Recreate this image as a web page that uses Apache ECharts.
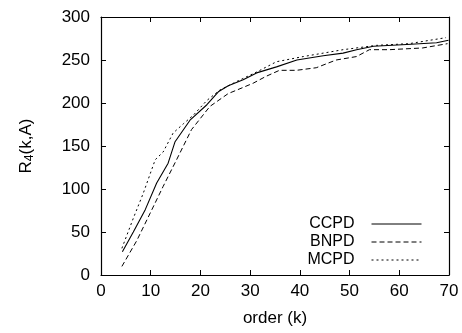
<!DOCTYPE html>
<html>
<head>
<meta charset="utf-8">
<script src="https://cdn.jsdelivr.net/npm/echarts@6/dist/echarts.min.js"></script>
<style>html,body{margin:0;padding:0;background:#fff}#c{width:462px;height:333px}</style>
</head>
<body>
<div id="c"></div>
<script>
var seriesNames = ['CCPD', 'BNPD', 'MCPD'];
var xTicks = [0, 10, 20, 30, 40, 50, 60, 70];
var yTicks = [0, 50, 100, 150, 200, 250, 300];

var ccpdK = [4.3, 6.5, 8.9, 11.2, 13.5, 14.9, 17.9, 21.3, 23.6, 25.6, 28.6, 31.3, 35.3, 39.4, 44.7, 48.7, 51.4, 54.8, 61.5, 67.5, 69.9];
var ccpdV = [27, 50, 76, 107, 130, 155, 180, 198, 213, 220, 227, 235, 242, 250, 255, 258, 262, 266, 268, 270, 273];

var bnpdK = [4.2, 7.2, 9.9, 12.5, 15.2, 18.2, 21.9, 25.6, 27.3, 30.6, 33.2, 35.9, 39.3, 43.3, 47.3, 51.4, 54.0, 58.0, 64.7, 69.7];
var bnpdV = [10, 40, 72, 103, 134, 169, 196, 211, 215, 223, 231, 238, 238, 241, 250, 254, 262, 262, 264, 269];

var mcpdK = [4.2, 6.5, 8.5, 10.9, 12.5, 14.5, 16.6, 18.6, 21.3, 23.9, 27.3, 31.3, 35.3, 40.7, 44.7, 48.7, 55.4, 62.0, 69.4];
var mcpdV = [31, 66, 95, 134, 143, 165, 176, 186, 203, 215, 225, 236, 248, 254, 258, 262, 267, 269, 276];

function pairs(k, v) { return k.map(function (x, i) { return [x, v[i]]; }); }

var font = 'Liberation Sans, Arial, Helvetica, sans-serif';
var chart = echarts.init(document.getElementById('c'), null, {renderer: 'canvas'});

var axisCommon = {
  axisLine: {show: true, onZero: false, lineStyle: {color: '#000', width: 1.2}},
  axisTick: {show: true, inside: true, length: 5, lineStyle: {color: '#000', width: 1}},
  splitLine: {show: false}
};

chart.setOption({
  animation: false,
  backgroundColor: '#fff',
  grid: {left: 101, right: 13, top: 17, bottom: 58, containLabel: false},
  legend: {
    orient: 'vertical',
    right: 35,
    top: 211,
    align: 'right',
    itemWidth: 50,
    itemHeight: 14,
    itemGap: 2,
    data: seriesNames,
    itemStyle: {opacity: 0},
    lineStyle: {width: 1},
    textStyle: {fontFamily: font, fontSize: 16, color: '#000', padding: [0, 12, 0, 0]}
  },
  xAxis: [
    Object.assign({
      type: 'value', min: xTicks[0], max: xTicks[xTicks.length - 1], interval: 10,
      position: 'bottom',
      name: 'order (k)', nameLocation: 'middle', nameGap: 35,
      nameTextStyle: {fontFamily: font, fontSize: 17, color: '#000'},
      axisLabel: {fontFamily: font, fontSize: 17, color: '#000', margin: 8}
    }, axisCommon),
    Object.assign({
      type: 'value', min: xTicks[0], max: xTicks[xTicks.length - 1], interval: 10,
      position: 'top', axisLabel: {show: false}
    }, axisCommon)
  ],
  yAxis: [
    Object.assign({
      type: 'value', min: yTicks[0], max: yTicks[yTicks.length - 1], interval: 50,
      position: 'left',
      name: '{a|R}{s|4}{a|(k,A)}', nameLocation: 'middle', nameGap: 65, nameRotate: 90,
      nameTextStyle: {
        fontFamily: font, fontSize: 17, color: '#000',
        rich: {
          a: {fontFamily: font, fontSize: 17, color: '#000'},
          s: {fontFamily: font, fontSize: 12, color: '#000', verticalAlign: 'bottom', padding: [8, 0, 0, 0]}
        }
      },
      axisLabel: {fontFamily: font, fontSize: 17, color: '#000', margin: 11}
    }, axisCommon),
    Object.assign({
      type: 'value', min: yTicks[0], max: yTicks[yTicks.length - 1], interval: 50,
      position: 'right', axisLabel: {show: false}
    }, axisCommon)
  ],
  series: [
    {name: seriesNames[0], type: 'line', data: pairs(ccpdK, ccpdV), symbol: 'none', showSymbol: false,
     lineStyle: {color: '#000', width: 1.1, type: 'solid'}, itemStyle: {color: '#000'}},
    {name: seriesNames[1], type: 'line', data: pairs(bnpdK, bnpdV), symbol: 'none', showSymbol: false,
     lineStyle: {color: '#000', width: 1, type: [5, 3]}, itemStyle: {color: '#000'}},
    {name: seriesNames[2], type: 'line', data: pairs(mcpdK, mcpdV), symbol: 'none', showSymbol: false,
     lineStyle: {color: '#000', width: 1, type: [2, 3]}, itemStyle: {color: '#000'}}
  ]
});
</script>
</body>
</html>
